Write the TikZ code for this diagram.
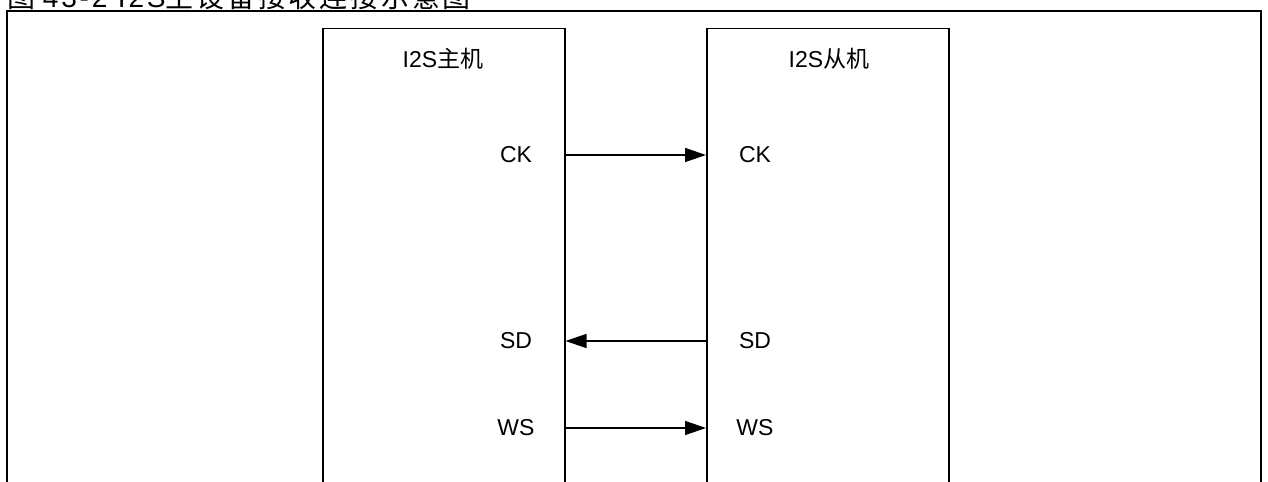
\documentclass[tikz,border=0pt]{standalone}
\usepackage{fontspec}
\setmainfont{Liberation Sans}
\newfontfamily\cjk{Noto Sans CJK SC}
\newfontfamily\capfont[LetterSpace=10]{Liberation Sans}
\newfontfamily\capcjk[LetterSpace=10]{Noto Sans CJK SC}
\usetikzlibrary{arrows.meta}
\begin{document}
\begin{tikzpicture}[x=1bp,y=-1bp,
  dev/.style={draw,line width=1.5bp,minimum width=242bp,minimum height=500bp,inner sep=0pt},
  lbl/.style={font=\fontsize{23bp}{27bp}\selectfont,inner sep=0pt,anchor=center},
  sig/.style={line width=1.4bp,-{Triangle[length=21bp,width=14bp]}}]
\useasboundingbox (0,0) rectangle (1268,482);
\clip (0,0) rectangle (1268,482);
\node[anchor=base west,inner sep=0pt,font=\fontsize{28bp}{32bp}\selectfont] (cap) at (7,7.5) {{\capcjk 图} {\capfont 43-2 I2S}{\capcjk 主设备接收连接示意图}};
\draw[line width=2.4bp] (7,495) -- (7,11) -- (1261,11) -- (1261,495);
\node[dev,anchor=north west] (master) at (322,28) {};
\node[dev,anchor=north west] (slave) at (706,28) {};
\node[lbl] (mt) at (443,59) {I2S{\cjk 主机}};
\node[lbl] (st) at (829,59) {I2S{\cjk 从机}};
\node[lbl] (mck) at (516,155) {CK};
\node[lbl] (msd) at (516,341) {SD};
\node[lbl] (mws) at (516,428) {WS};
\node[lbl] (sck) at (755,155) {CK};
\node[lbl] (ssd) at (755,341) {SD};
\node[lbl] (sws) at (755,428) {WS};
\draw[sig] (master.east |- mck) -- (slave.west |- sck);
\draw[sig] (slave.west |- ssd) -- (master.east |- msd);
\draw[sig] (master.east |- mws) -- (slave.west |- sws);
\end{tikzpicture}
\end{document}
